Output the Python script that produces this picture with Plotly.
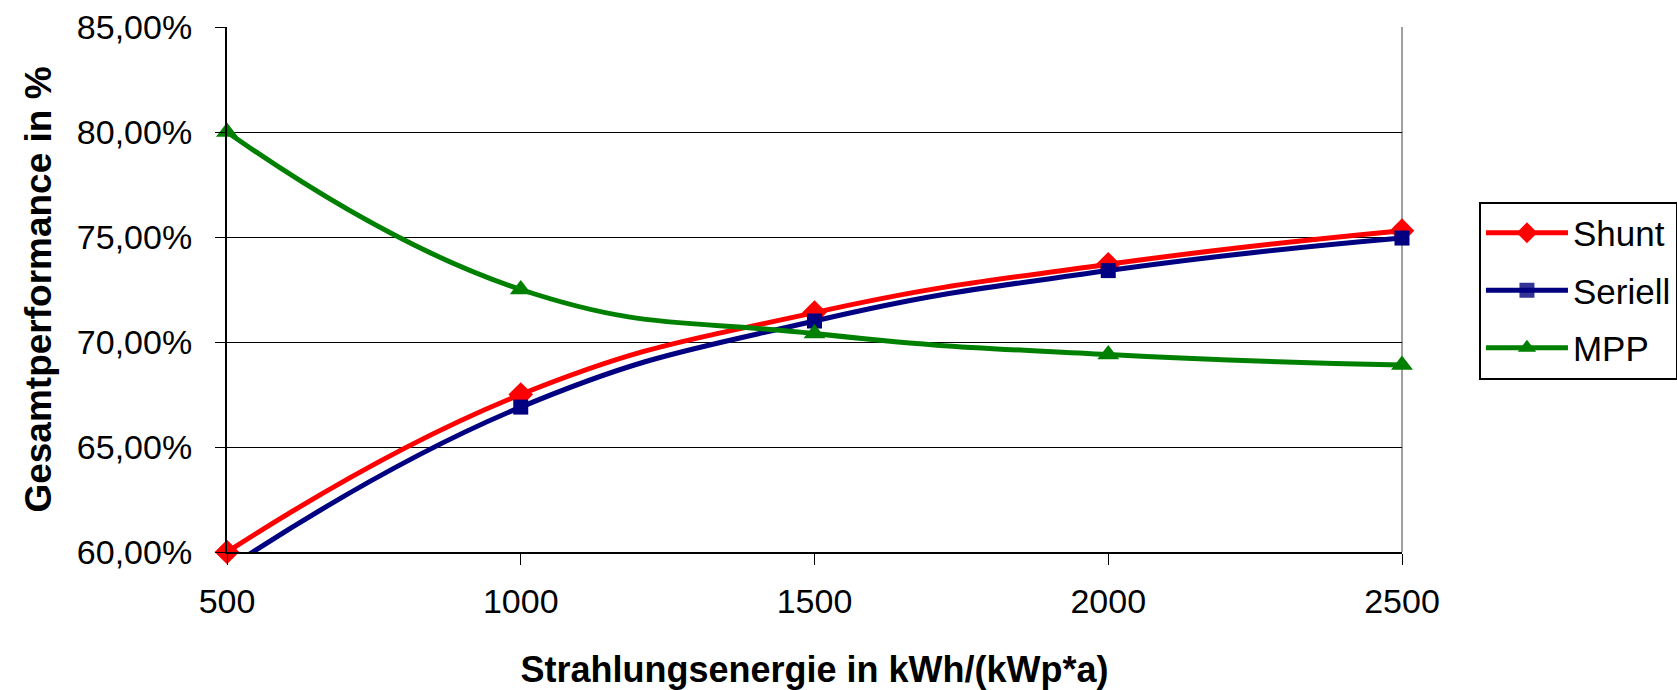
import plotly.graph_objects as go

# Data
energy = [500, 1000, 1500, 2000, 2500]
shunt = [0.600, 0.675, 0.714, 0.737, 0.753]
seriell = [0.592, 0.669, 0.710, 0.734, 0.7495]
mpp = [0.800, 0.725, 0.704, 0.694, 0.689]
series_names = ["Shunt", "Seriell", "MPP"]
y_ticks = [0.60, 0.65, 0.70, 0.75, 0.80, 0.85]
x_ticks = [500, 1000, 1500, 2000, 2500]

FONT = "Liberation Sans, Arial, sans-serif"

fig = go.Figure()
fig.add_trace(go.Scatter(
    x=energy, y=shunt, name=series_names[0], mode="lines+markers",
    line=dict(color="#FF0000", width=5, shape="spline", smoothing=1.3),
    marker=dict(symbol="diamond", size=19, color="#FF0000"),
    cliponaxis=False, legendgroup="a"))
fig.add_trace(go.Scatter(
    x=energy, y=seriell, name=series_names[1], mode="lines+markers",
    line=dict(color="#000080", width=5, shape="spline", smoothing=1.3),
    marker=dict(symbol="square", size=15, color="#000080",
                opacity=[0, 1, 1, 1, 1]),
    cliponaxis=False, legendgroup="b"))
fig.add_trace(go.Scatter(
    x=energy, y=mpp, name=series_names[2], mode="lines+markers",
    line=dict(color="#008000", width=5, shape="spline", smoothing=1.3),
    marker=dict(symbol="triangle-up", size=19, color="#008000"),
    cliponaxis=False, legendgroup="c"))

fig.update_layout(
    width=1677, height=690,
    margin=dict(l=227, r=275, t=27, b=138, autoexpand=False),
    paper_bgcolor="white", plot_bgcolor="white",
    separators=", ",
    font=dict(family=FONT, color="black", size=34),
    showlegend=True,
    legend=dict(
        x=1.0655, xanchor="left", y=0.6676, yanchor="top",
        bordercolor="black", borderwidth=2, bgcolor="white",
        font=dict(size=35, family=FONT, color="black"),
        tracegroupgap=9, itemwidth=82, entrywidth=230,
    ),
    xaxis=dict(
        range=[500, 2500], tickvals=x_ticks, tickformat="d",
        showgrid=False, zeroline=False,
        showline=True, linecolor="black", linewidth=2,
        ticks="outside", ticklen=11, tickcolor="black", tickwidth=1,
        ticklabelstandoff=7,
        tickfont=dict(size=34, family=FONT, color="black"),
        title=dict(text="<b>Strahlungsenergie in kWh/(kWp*a)</b>",
                   font=dict(size=36, family=FONT, color="black"), standoff=42),
        automargin=False,
    ),
    yaxis=dict(
        range=[0.60, 0.85], tickvals=y_ticks, tickformat=".2%",
        showgrid=True, gridcolor="black", gridwidth=1,
        zeroline=False,
        showline=True, linecolor="black", linewidth=2,
        ticks="outside", ticklen=10, tickcolor="black", tickwidth=1,
        ticklabelstandoff=16,
        tickfont=dict(size=34, family=FONT, color="black"),
        title=dict(text="<b>Gesamtperformance in %</b>",
                   font=dict(size=37, family=FONT, color="black"), standoff=14),
        automargin=False,
    ),
    shapes=[dict(type="line", xref="paper", yref="paper", x0=1, x1=1, y0=0, y1=1,
                 line=dict(color="#A0A0A0", width=2), layer="below")],
)

fig.write_html("out.html")
